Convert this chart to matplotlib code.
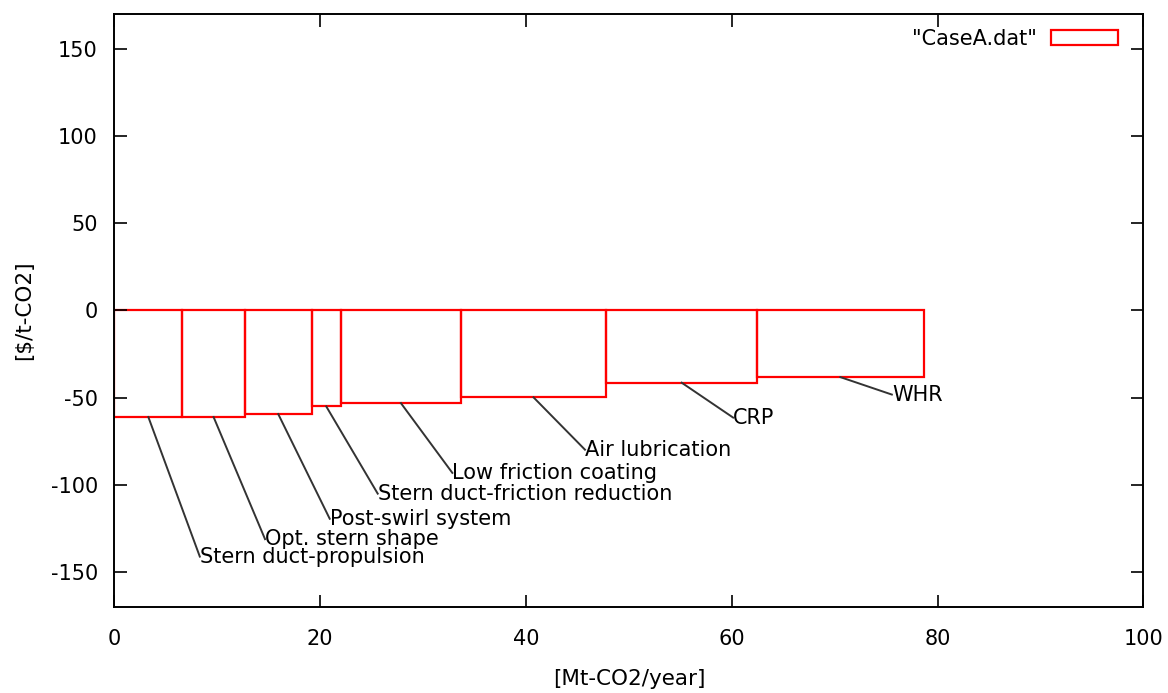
import numpy as np
import matplotlib
matplotlib.use("Agg")
import matplotlib.pyplot as plt

# abatement measures, widths in Mt-CO2/year, costs in $/t-CO2
measures = ["Stern duct-propulsion", "Opt. stern shape", "Post-swirl system",
            "Stern duct-friction reduction", "Low friction coating",
            "Air lubrication", "CRP", "WHR"]
cum_end = [6.59, 12.68, 19.16, 22.01, 33.67, 47.79, 62.47, 78.64]
costs = [-61.1, -61.1, -59.4, -55.0, -53.1, -49.8, -41.4, -38.2]
label_dx = 5
label_dy = [-80, -70, -60, -50, -40, -30, -20, -10]

cum_end = np.array(cum_end)
starts = np.concatenate([[0], cum_end[:-1]])
widths = cum_end - starts
mids = starts + widths / 2

plt.rcParams['font.family'] = ['DejaVu Sans']
plt.rcParams['axes.unicode_minus'] = False
fig = plt.figure(figsize=(11.68, 6.93), dpi=100)
ax = fig.add_axes([0.098, 0.1241, 0.8809, 0.8557])

ax.bar(starts, costs, width=widths, align='edge', fill=False,
       edgecolor='#ff0000', linewidth=1.6, label='"CaseA.dat"')

# leader lines from bar bottoms to the labels
for i, name in enumerate(measures):
    tx = mids[i] + label_dx
    ty = costs[i] + label_dy[i]
    ax.plot([mids[i], tx], [costs[i], ty], color='#333333', lw=1.4)
    ax.text(tx, ty, name, fontsize=15, ha='left', va='center', color='black')

ax.set_xlim(0, 100)
ax.set_ylim(-170, 170)
ax.set_xticks([0, 20, 40, 60, 80, 100])
ax.set_yticks([-150, -100, -50, 0, 50, 100, 150])
ax.tick_params(direction='in', length=9, width=1.2, top=True, right=True,
               labelsize=15)
ax.tick_params(axis='x', pad=16)
ax.tick_params(axis='y', pad=12)
for sp in ax.spines.values():
    sp.set_linewidth(1.4)

ax.set_xlabel("[Mt-CO2/year]", fontsize=15.5)
ax.set_ylabel(r"[\$/t-CO2]", fontsize=15.5)
ax.xaxis.set_label_coords(0.5, -0.104)
ax.yaxis.set_label_coords(-0.078, 0.5)

ax.legend(loc='upper right', bbox_to_anchor=(0.975, 0.975), frameon=False,
          markerfirst=False, fontsize=15, handlelength=3.2, handleheight=0.75,
          handletextpad=0.7, borderaxespad=0, borderpad=0)

fig.savefig("out.png", dpi=100)
